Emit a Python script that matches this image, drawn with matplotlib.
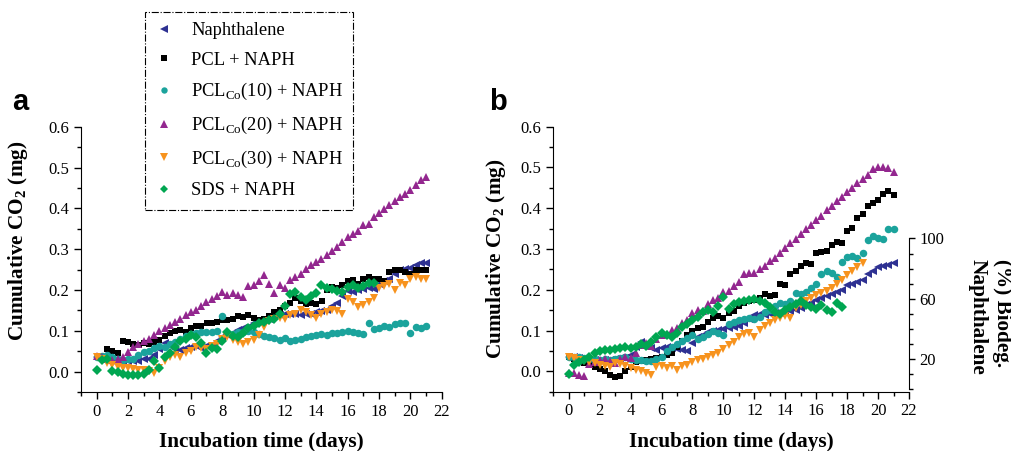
import matplotlib
matplotlib.use("Agg")
import matplotlib.pyplot as plt
from matplotlib.ticker import MultipleLocator, FixedLocator, FormatStrFormatter
import matplotlib.transforms as mtransforms
import numpy as np

plt.rcParams['font.family'] = ['Liberation Serif', 'DejaVu Serif']
plt.rcParams['mathtext.fontset'] = 'custom'
plt.rcParams['mathtext.rm'] = 'Liberation Serif'
plt.rcParams['mathtext.bf'] = 'Liberation Serif:bold'

# sampling step of the measurements (days)
step = 1 / 3

labels = ["Naphthalene", "PCL + NAPH",
          r"PCL$_{\mathrm{Co}}$(10) + NAPH", r"PCL$_{\mathrm{Co}}$(20) + NAPH",
          r"PCL$_{\mathrm{Co}}$(30) + NAPH", "SDS + NAPH"]
colors = ["#2e3192", "#000000", "#1ba39c", "#93278f", "#f7931e", "#00a651"]
markers = ["<", "s", "o", "^", "v", "D"]
msizes = [6.0, 5.0, 5.4, 6.4, 6.4, 4.8]

# ---- panel a : cumulative CO2 (mg) ----
a_start = [0.0, 0.67, 0.0, 0.0, 0.0, 0.0]
a_naph = [.035, .033, .030, .027, .025, .026, .025, .027, .026, .030, .032, .040,
          .055, .070, .062, .055, .052, .058, .060, .063, .058, .062, .064, .075,
          .085, .090, .095, .102, .106, .110, .118, .122, .126, .130, .136, .138,
          .140, .142, .140, .138, .140, .142, .145, .148, .152, .160, .168, .185,
          .198, .195, .200, .202, .205, .203, .215, .222, .228, .240, .248, .252,
          .255, .260, .265, .266]
a_pcl = [.055, .050, .045, .075, .072, .068, .066, .070, .068, .072, .078, .088,
         .095, .100, .102, .098, .106, .112, .112, .118, .120, .122, .126, .126,
         .130, .135, .134, .138, .132, .126, .128, .136, .145, .152, .160, .168,
         .180, .172, .165, .168, .165, .172, .200, .208, .205, .212, .222, .225,
         .215, .228, .232, .228, .226, .222, .245, .248, .250, .245, .240, .248,
         .250, .248]
a_co10 = [.035, .038, .040, .035, .030, .028, .030, .032, .040, .048, .050, .058,
          .062, .060, .068, .072, .080, .088, .092, .095, .098, .096, .098, .100,
          .135, .095, .092, .096, .098, .100, .098, .092, .088, .085, .082, .078,
          .082, .075, .078, .080, .085, .088, .090, .092, .090, .095, .094, .096,
          .100, .096, .094, .092, .118, .104, .108, .112, .110, .116, .120, .118,
          .095, .110, .108, .112]
a_co20 = [.037, .035, .030, .028, .030, .035, .048, .060, .068, .075, .080, .090,
          .100, .108, .115, .122, .130, .138, .146, .152, .160, .170, .178, .184,
          .195, .188, .192, .188, .182, .210, .212, .222, .236, .215, .192, .212,
          .205, .225, .232, .240, .252, .262, .268, .276, .285, .295, .305, .318,
          .330, .338, .345, .360, .362, .378, .388, .398, .408, .418, .428, .435,
          .445, .458, .470, .476]
a_co30 = [.035, .030, .020, .015, .012, .010, .008, .006, .005, .005, .002, -.004,
          .010, .025, .035, .040, .035, .045, .050, .060, .058, .055, .062, .068,
          .080, .085, .078, .072, .068, .072, .078, .090, .110, .125, .128, .132,
          .130, .138, .142, .150, .145, .138, .132, .140, .146, .152, .148, .142,
          .178, .170, .158, .162, .170, .180, .205, .210, .215, .200, .218, .212,
          .228, .232, .228, .226]
a_sds = [.003, .028, .032, .002, -.002, -.005, -.008, -.009, -.008, -.007, .005, .025,
         .008, .035, .045, .060, .075, .080, .090, .085, .070, .045, .058, .055,
         .075, .098, .088, .085, .095, .108, .112, .118, .122, .126, .130, .140,
         .160, .190, .195, .182, .175, .185, .192, .212, .205, .202, .198, .195,
         .208, .212, .206, .210, .216, .218]

# ---- panel b ----
b_start = [0.0, 0.0, 0.0, 0.0, 0.0, 0.0]
b_naph = [.035, .034, .032, .030, .028, .027, .025, .027, .028, .030, .032, .033,
          .040, .060, .072, .065, .058, .052, .058, .060, .058, .055, .052, .050,
          .070, .085, .090, .096, .100, .102, .104, .106, .108, .110, .118, .128,
          .138, .140, .138, .140, .143, .142, .145, .147, .150, .155, .162, .168,
          .175, .180, .185, .190, .195, .200, .212, .215, .218, .225, .238, .245,
          .255, .258, .260, .265]
b_pcl = [.035, .030, .025, .020, .015, .010, .005, .000, -.008, -.015, -.012, .000,
         .010, .022, .025, .028, .030, .032, .035, .040, .045, .060, .075, .090,
         .100, .105, .108, .120, .130, .135, .130, .142, .148, .160, .168, .172,
         .175, .180, .190, .185, .188, .215, .212, .238, .245, .258, .265, .262,
         .290, .292, .295, .310, .318, .315, .345, .352, .375, .385, .405, .412,
         .420, .435, .442, .432]
b_co10 = [.035, .036, .035, .032, .030, .030, .028, .030, .028, .030, .032, .035,
          .030, .028, .028, .026, .025, .030, .035, .050, .060, .068, .075, .082,
          .090, .080, .085, .092, .098, .095, .088, .115, .120, .125, .128, .130,
          .128, .132, .145, .150, .160, .168, .165, .172, .192, .190, .195, .205,
          .215, .238, .245, .240, .232, .268, .280, .282, .278, .290, .322, .332,
          .328, .325, .350, .348]
b_co20 = [-.003, -.005, -.008, -.012, .018, .022, .028, .030, .025, .020, .030, .035,
          .032, .045, .065, .070, .062, .080, .090, .092, .102, .105, .118, .125,
          .142, .150, .148, .165, .175, .180, .195, .198, .210, .218, .238, .240,
          .242, .250, .258, .270, .278, .290, .302, .315, .325, .338, .348, .360,
          .372, .382, .395, .405, .418, .428, .440, .450, .462, .472, .482, .495,
          .500, .502, .498, .488]
b_co30 = [.035, .032, .028, .025, .022, .020, .016, .013, .010, .020, .018, .012,
          .008, .004, .000, -.004, -.008, .010, .012, .008, .012, .002, .012, .015,
          .022, .028, .030, .035, .040, .045, .055, .065, .072, .085, .092, .095,
          .085, .102, .112, .118, .125, .130, .135, .130, .155, .162, .172, .180,
          .188, .192, .198, .205, .215, .225, .235, .245, .255, .265]
b_sds = [-.006, .015, .022, .028, .035, .045, .050, .052, .053, .055, .058, .060,
         .056, .060, .068, .062, .072, .085, .095, .090, .085, .095, .108, .115,
         .125, .132, .145, .150, .146, .160, .182, .152, .165, .170, .172, .175,
         .178, .172, .168, .158, .145, .140, .150, .158, .165, .172, .162, .158,
         .152, .162, .150, .145, .168, .158]

# right axis of panel b (% biodegradation)
bio_ticks = [0, 10, 20, 30, 40, 50, 60, 70, 80, 90, 100]
bio_labels = [20, 60, 100]

panel_a = [a_naph, a_pcl, a_co10, a_co20, a_co30, a_sds]
panel_b = [b_naph, b_pcl, b_co10, b_co20, b_co30, b_sds]

fig = plt.figure(figsize=(10.11, 4.51), dpi=100)
ax1 = fig.add_axes([0.0801, 0.1308, 0.3568, 0.5883])
ax2 = fig.add_axes([0.5473, 0.1315, 0.3518, 0.5876])


def style_axis(ax):
    ax.set_xlim(-1, 22)
    ax.set_ylim(-0.05, 0.6)
    ax.spines['top'].set_visible(False)
    ax.spines['right'].set_visible(False)
    ax.xaxis.set_major_locator(MultipleLocator(2))
    ax.xaxis.set_minor_locator(MultipleLocator(1))
    ax.yaxis.set_major_locator(FixedLocator([0, .1, .2, .3, .4, .5, .6]))
    ax.yaxis.set_minor_locator(MultipleLocator(0.05))
    ax.yaxis.set_major_formatter(FormatStrFormatter('%.1f'))
    ax.tick_params(which='major', direction='out', length=5, width=1, labelsize=12)
    ax.tick_params(which='minor', direction='out', length=3, width=1)
    ax.set_xlabel("Incubation time (days)", fontsize=15.3, fontweight='bold',
                  labelpad=9)
    ax.set_ylabel(r"Cumulative CO$_{\mathbf{2}}$ (mg)", fontsize=15.3,
                  fontweight='bold')


for ax, data, starts in [(ax1, panel_a, a_start), (ax2, panel_b, b_start)]:
    for vals, st, c, m, ms, lab in zip(data, starts, colors, markers, msizes, labels):
        days = st + np.arange(len(vals)) * step
        ax.plot(days, vals, linestyle='none', marker=m, color=c, markersize=ms,
                markeredgewidth=0, label=lab)
    style_axis(ax)

ax1.yaxis.set_label_coords(-0.142, 0.57)
ax2.yaxis.set_label_coords(-0.128, 0.5)

# right hand axis on panel b
ax3 = ax2.twinx()
ax3.set_ylim(-1.5, 174)
ax3.spines['top'].set_visible(False)
ax3.spines['left'].set_visible(False)
ax3.spines['bottom'].set_visible(False)
ax3.spines['right'].set_bounds(0, 100)
ax3.yaxis.set_major_locator(FixedLocator(bio_labels))
ax3.yaxis.set_minor_locator(FixedLocator(bio_ticks))
ax3.tick_params(which='major', direction='out', length=4, width=1, labelsize=12)
ax3.tick_params(which='minor', direction='out', length=3, width=1)
trans = mtransforms.blended_transform_factory(ax3.transAxes, ax3.transData)
ax3.text(1.228, 48, "(%) Biodeg.\nNaphthalene", transform=trans, rotation=270,
         ha='center', va='center', multialignment='left', fontsize=15.3,
         fontweight='bold', linespacing=1.3)

# panel letters
fig.text(0.012, 0.742, "a", fontsize=21, fontweight='bold',
         family='Liberation Sans', va='bottom')
fig.text(0.484, 0.742, "b", fontsize=21, fontweight='bold',
         family='Liberation Sans', va='bottom')

handles, labs = ax1.get_legend_handles_labels()
leg = fig.legend(handles, labs, loc='upper left',
                 bbox_to_anchor=(145 / 1011, 1 - 12 / 451), borderaxespad=0,
                 fontsize=13.3, numpoints=1, handlelength=1.0, handletextpad=0.95,
                 labelspacing=0.68, borderpad=0.55, fancybox=False, framealpha=1,
                 markerscale=0.85)
frame = leg.get_frame()
frame.set_edgecolor('black')
frame.set_linewidth(0.8)
frame.set_linestyle('-.')

plt.savefig("out.png", dpi=100)
